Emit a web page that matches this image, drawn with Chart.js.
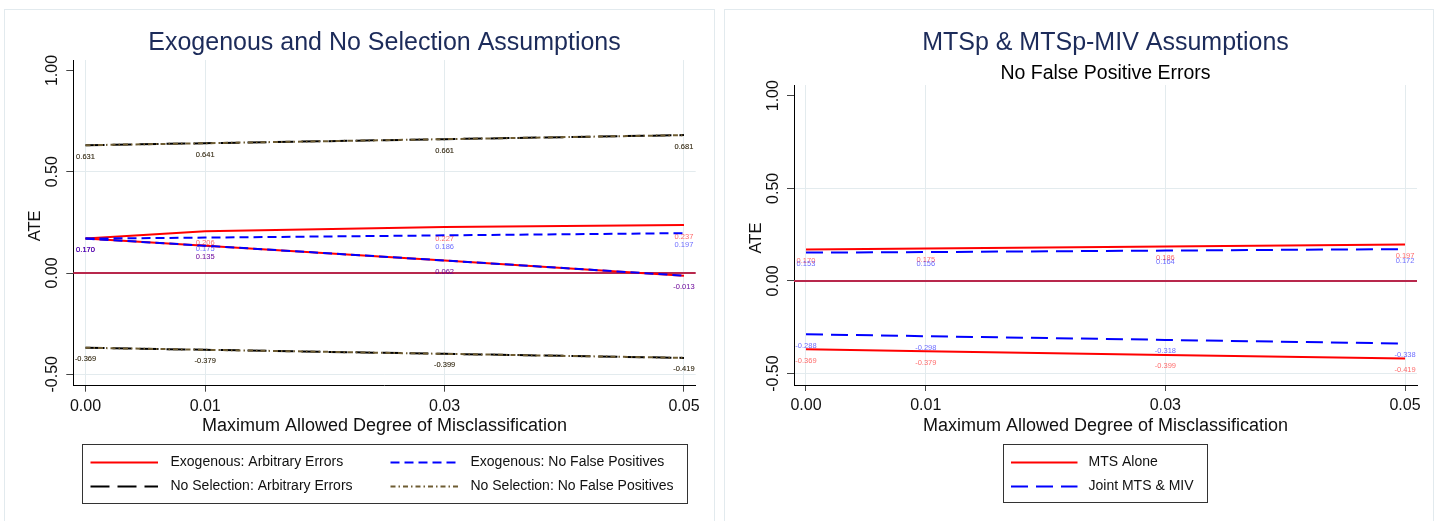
<!DOCTYPE html>
<html>
<head>
<meta charset="utf-8">
<script src="https://cdn.jsdelivr.net/npm/chart.js@4"></script>
<style>
  html, body { margin: 0; padding: 0; background: #fff; }
  body { width: 1437px; height: 521px; position: relative; overflow: hidden; }
  .panel { position: absolute; top: 9px; height: 530px; border: 1px solid #e2eaee; box-sizing: border-box; }
  canvas { position: absolute; top: 0; }
</style>
</head>
<body>
<div class="panel" style="left:4px;width:711px"></div>
<div class="panel" style="left:724px;width:710px"></div>
<canvas id="leftChart" width="719" height="521" style="left:0"></canvas>
<canvas id="rightChart" width="718" height="521" style="left:719px"></canvas>
<script>
// ========== CONFIG ==========
const FONT = '"Liberation Sans", Arial, Helvetica, sans-serif';
const GRID = '#e3ebee';
const RED = '#ff0000', BLUE = '#0000ff', BLACK = '#000000', BROWN = '#6e5c32';
const ZERO_LINE = '#b8284c';

// ========== DATA ==========
const misclass = [0, 0.01, 0.03, 0.05];
const xTickVals = [0, 0.01, 0.03, 0.05];
const xTickLabels = ['0.00', '0.01', '0.03', '0.05'];
const yTickVals = [-0.5, 0, 0.5, 1];
const yTickLabels = ['-0.50', '0.00', '0.50', '1.00'];

// Exogenous and No Selection Assumptions
const exoArbUpper   = [0.170, 0.206, 0.227, 0.237];
const exoArbLower   = [0.170, 0.135, 0.062, -0.013];
const exoNfpUpper   = [0.170, 0.175, 0.186, 0.197];
const exoNfpLower   = [0.170, 0.135, 0.062, -0.013];
const noSelArbUpper = [0.631, 0.641, 0.661, 0.681];
const noSelArbLower = [-0.369, -0.379, -0.399, -0.419];
const noSelNfpUpper = [0.631, 0.641, 0.661, 0.681];
const noSelNfpLower = [-0.369, -0.379, -0.399, -0.419];

// MTSp & MTSp-MIV Assumptions (no false positive errors)
const mtsUpper   = [0.170, 0.175, 0.186, 0.197];
const mtsLower   = [-0.369, -0.379, -0.399, -0.419];
const jointUpper = [0.153, 0.156, 0.164, 0.172];
const jointLower = [-0.288, -0.298, -0.318, -0.338];

// line styles (Stata-like)
const STYLES = {
    exoArb:   { color: RED,   dash: [],             label: 'rgba(255,0,0,0.6)' },
    exoNfp:   { color: BLUE,  dash: [9, 5],         label: 'rgba(0,0,255,0.6)' },
    noSelArb: { color: BLACK, dash: [19, 8],        label: 'rgba(0,0,0,0.8)' },
    noSelNfp: { color: BROWN, dash: [5, 3, 1.5, 3], label: 'rgba(90,72,35,0.7)' },
    mts:      { color: RED,   dash: [],             label: 'rgba(255,0,0,0.6)' },
    joint:    { color: BLUE,  dash: [17, 8],        label: 'rgba(0,0,255,0.6)' }
};

function series(values, style) {
    return {
        data: misclass.map((x, i) => ({ x: x, y: values[i] })),
        borderColor: style.color,
        borderDash: style.dash,
        borderWidth: 2,
        borderCapStyle: 'butt',
        pointRadius: 0,
        tension: 0,
        fill: false,
        labelColor: style.label
    };
}

// later series drawn on top, like Stata
function stack(list) {
    list.forEach((ds, i) => { ds.order = list.length - i; });
    return list;
}

// ========== PLUGIN: titles, labels, zero line, legend ==========
const stataDecor = {
    id: 'stataDecor',
    beforeDatasetsDraw(chart) {
        const { ctx, chartArea, scales } = chart;
        const py = scales.y.getPixelForValue(0);
        ctx.save();
        ctx.strokeStyle = ZERO_LINE;
        ctx.lineWidth = 2;
        ctx.beginPath();
        ctx.moveTo(chartArea.left, py);
        ctx.lineTo(chartArea.right, py);
        ctx.stroke();
        ctx.restore();
    },
    afterDatasetsDraw(chart) {
        const ctx = chart.ctx;
        ctx.save();
        ctx.font = '7.5px ' + FONT;
        ctx.textAlign = 'center';
        ctx.textBaseline = 'middle';
        chart.data.datasets.forEach((ds, i) => {
            const meta = chart.getDatasetMeta(i);
            ctx.fillStyle = ds.labelColor;
            meta.data.forEach((pt, j) => {
                ctx.fillText(ds.data[j].y.toFixed(3), pt.x, pt.y + 11.5);
            });
        });
        ctx.restore();
    },
    afterDraw(chart, args, opts) {
        const { ctx, chartArea: ca, scales } = chart;
        const cx = (ca.left + ca.right) / 2;
        ctx.save();
        ctx.textAlign = 'center';
        ctx.textBaseline = 'alphabetic';

        // title + subtitle
        ctx.fillStyle = '#1c2b5a';
        ctx.font = '25px ' + FONT;
        ctx.fillText(opts.title, cx, 50);
        if (opts.subtitle) {
            ctx.fillStyle = '#000';
            ctx.font = '19.5px ' + FONT;
            ctx.fillText(opts.subtitle, cx, 79);
        }

        // y tick labels (vertical, Stata style)
        ctx.fillStyle = '#111';
        ctx.font = '16px ' + FONT;
        ctx.textBaseline = 'middle';
        yTickVals.forEach((v, i) => {
            ctx.save();
            ctx.translate(ca.left - 20.5, scales.y.getPixelForValue(v));
            ctx.rotate(-Math.PI / 2);
            ctx.fillText(yTickLabels[i], 0, 0);
            ctx.restore();
        });

        // axis titles
        ctx.font = '16.5px ' + FONT;
        ctx.save();
        ctx.translate(ca.left - 38, (ca.top + ca.bottom) / 2 + 3);
        ctx.rotate(-Math.PI / 2);
        ctx.fillText('ATE', 0, 0);
        ctx.restore();
        ctx.font = '18px ' + FONT;
        ctx.textBaseline = 'alphabetic';
        ctx.fillText('Maximum Allowed Degree of Misclassification', cx, 431);

        // legend
        const lg = opts.legend;
        ctx.strokeStyle = '#333';
        ctx.lineWidth = 1;
        ctx.strokeRect(lg.box[0] + 0.5, lg.box[1] + 0.5, lg.box[2] - lg.box[0], lg.box[3] - lg.box[1]);
        ctx.font = '14px ' + FONT;
        ctx.textAlign = 'left';
        ctx.textBaseline = 'middle';
        lg.items.forEach(it => {
            const col = lg.cols[it.col];
            const y = lg.rows[it.row];
            ctx.save();
            ctx.strokeStyle = it.style.color;
            ctx.lineWidth = 2;
            ctx.setLineDash(it.style.dash);
            ctx.beginPath();
            ctx.moveTo(col.lineX, y);
            ctx.lineTo(col.lineX + col.lineW, y);
            ctx.stroke();
            ctx.restore();
            ctx.fillStyle = '#111';
            ctx.fillText(it.text, col.textX, y);
        });
        ctx.restore();
    }
};

// ========== OPTIONS ==========
function makeOptions(p) {
    return {
        responsive: false,
        animation: false,
        devicePixelRatio: 1,
        layout: { autoPadding: false, padding: p.padding },
        plugins: {
            legend: { display: false },
            tooltip: { enabled: false },
            stataDecor: p.decor
        },
        scales: {
            x: {
                type: 'linear',
                min: p.xMin, max: p.xMax,
                afterBuildTicks: s => { s.ticks = xTickVals.map(v => ({ value: v })); },
                afterFit: s => { s.height = 40; },
                ticks: {
                    autoSkip: false, maxRotation: 0, padding: 5,
                    color: '#111',
                    font: { family: FONT, size: 16 },
                    callback: (v, i) => xTickLabels[i]
                },
                grid: { color: GRID, lineWidth: 1, tickLength: 6, tickColor: '#444' },
                border: { color: '#000', width: 1 }
            },
            y: {
                type: 'linear',
                min: p.yMin, max: p.yMax,
                afterBuildTicks: s => { s.ticks = yTickVals.map(v => ({ value: v })); },
                afterFit: s => { s.width = p.yWidth; },
                ticks: { display: false },
                grid: {
                    color: c => (c.tick && Math.abs(c.tick.value) === 0.5) ? GRID : 'rgba(0,0,0,0)',
                    lineWidth: 1, tickLength: 7, tickColor: '#444'
                },
                border: { color: '#000', width: 1 }
            }
        }
    };
}

// ========== INIT ==========
Chart.register(stataDecor);

new Chart(document.getElementById('leftChart'), {
    type: 'line',
    data: {
        datasets: stack([
            series(exoArbUpper, STYLES.exoArb),
            series(exoArbLower, STYLES.exoArb),
            series(exoNfpUpper, STYLES.exoNfp),
            series(exoNfpLower, STYLES.exoNfp),
            series(noSelArbUpper, STYLES.noSelArb),
            series(noSelArbLower, STYLES.noSelArb),
            series(noSelNfpUpper, STYLES.noSelNfp),
            series(noSelNfpLower, STYLES.noSelNfp)
        ])
    },
    options: makeOptions({
        padding: { left: 0, right: 23.3, top: 60, bottom: 95.3 },
        yWidth: 73.3,
        xMin: -0.00102, xMax: 0.05098,
        yMin: -0.5563, yMax: 1.0519,
        decor: {
            title: 'Exogenous and No Selection Assumptions',
            legend: {
                box: [82, 444, 687, 503],
                rows: [462.5, 486.5],
                cols: [
                    { lineX: 90.5, lineW: 67.5, textX: 170.5 },
                    { lineX: 390.5, lineW: 67.5, textX: 470.5 }
                ],
                items: [
                    { text: 'Exogenous: Arbitrary Errors', col: 0, row: 0, style: STYLES.exoArb },
                    { text: 'Exogenous: No False Positives', col: 1, row: 0, style: STYLES.exoNfp },
                    { text: 'No Selection: Arbitrary Errors', col: 0, row: 1, style: STYLES.noSelArb },
                    { text: 'No Selection: No False Positives', col: 1, row: 1, style: STYLES.noSelNfp }
                ]
            }
        }
    })
});

new Chart(document.getElementById('rightChart'), {
    type: 'line',
    data: {
        datasets: stack([
            series(mtsUpper, STYLES.mts),
            series(mtsLower, STYLES.mts),
            series(jointUpper, STYLES.joint),
            series(jointLower, STYLES.joint)
        ])
    },
    options: makeOptions({
        padding: { left: 0, right: 20, top: 85, bottom: 96 },
        yWidth: 75,
        xMin: -0.001, xMax: 0.0510,
        yMin: -0.5615, yMax: 1.0577,
        decor: {
            title: 'MTSp & MTSp-MIV Assumptions',
            subtitle: 'No False Positive Errors',
            legend: {
                box: [284, 444, 488, 502],
                rows: [462.5, 486.5],
                cols: [{ lineX: 292, lineW: 66.5, textX: 369.5 }],
                items: [
                    { text: 'MTS Alone', col: 0, row: 0, style: STYLES.mts },
                    { text: 'Joint MTS & MIV', col: 0, row: 1, style: STYLES.joint }
                ]
            }
        }
    })
});
</script>
</body>
</html>
